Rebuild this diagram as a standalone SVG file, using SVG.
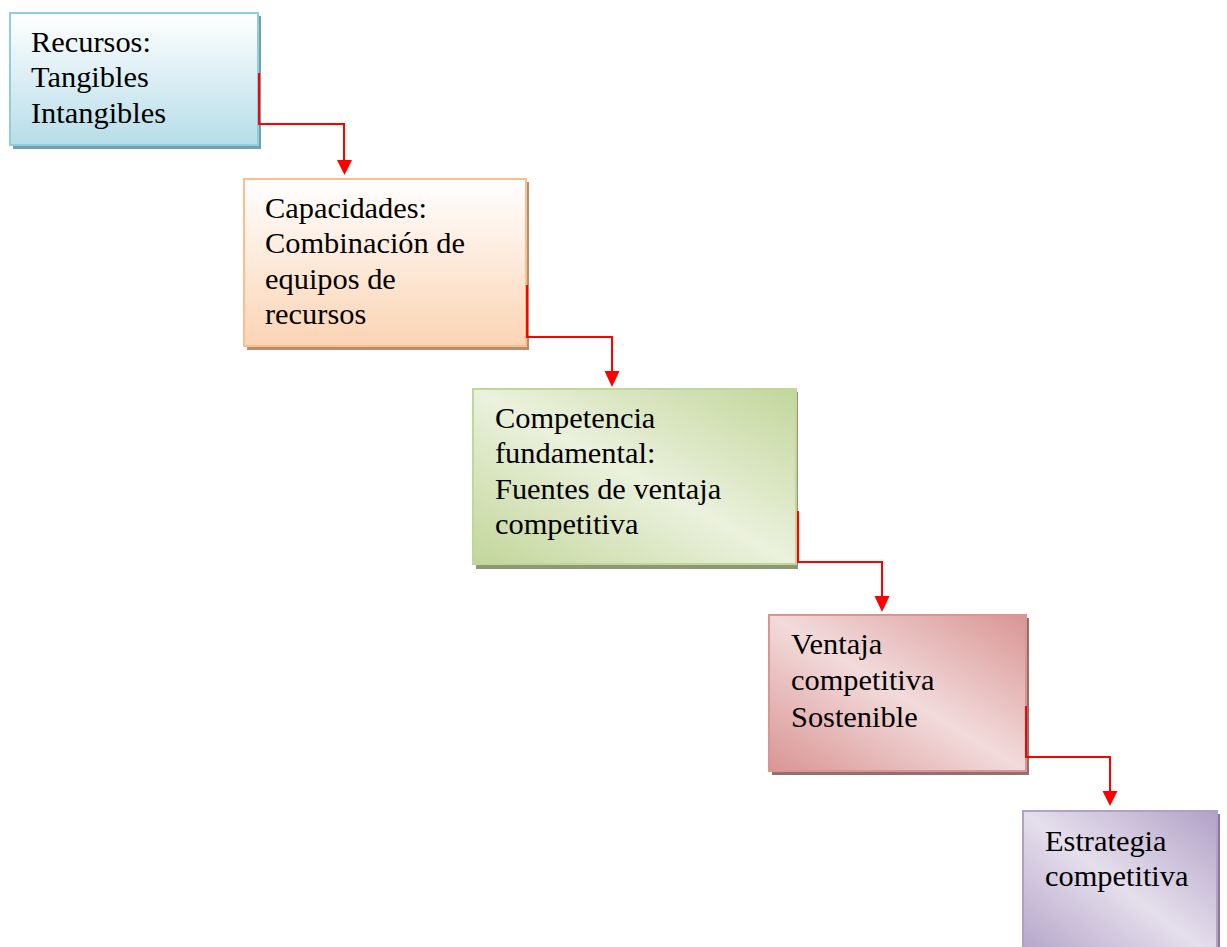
<svg xmlns="http://www.w3.org/2000/svg" width="1227" height="947" viewBox="0 0 1227 947">
<style>
text{font-family:"Liberation Serif","Times New Roman",serif;font-size:30.4px;fill:#000}
.conn{fill:none;stroke:#ff0000;stroke-width:2}
.head{fill:#ff0000}
</style>
<defs>
<linearGradient id="g1" x1="0" y1="0" x2="0" y2="1"><stop offset="0" stop-color="#ffffff"/><stop offset="1" stop-color="#b6dde8"/></linearGradient>
<linearGradient id="g2" x1="0" y1="0" x2="0" y2="1"><stop offset="0" stop-color="#ffffff"/><stop offset="1" stop-color="#fbd4b4"/></linearGradient>
<linearGradient id="g3" x1="1" y1="0" x2="0" y2="1"><stop offset="0" stop-color="#c2d69b"/><stop offset="0.5" stop-color="#ebf1dd"/><stop offset="1" stop-color="#c2d69b"/></linearGradient>
<linearGradient id="g4" x1="1" y1="0" x2="0" y2="1"><stop offset="0" stop-color="#d99594"/><stop offset="0.5" stop-color="#f2dbdb"/><stop offset="1" stop-color="#d99594"/></linearGradient>
<linearGradient id="g5" x1="1" y1="0" x2="0" y2="1"><stop offset="0" stop-color="#b2a1c7"/><stop offset="0.5" stop-color="#e5dfec"/><stop offset="1" stop-color="#b2a1c7"/></linearGradient>
</defs>
<g id="node1">
<rect x="13" y="16" width="248" height="133" fill="#4b8a9a" opacity="0.8"/>
<rect x="10" y="13" width="248" height="132" fill="url(#g1)" stroke="#92cddc" stroke-width="2"/>
<text x="31" y="52">Recursos:</text>
<text x="31" y="87">Tangibles</text>
<text x="31" y="123">Intangibles</text>
</g>
<g id="node2">
<rect x="247" y="182" width="282" height="168" fill="#a87048" opacity="0.8"/>
<rect x="244" y="179" width="282" height="167" fill="url(#g2)" stroke="#fabf8f" stroke-width="2"/>
<text x="265" y="218">Capacidades:</text>
<text x="265" y="253">Combinación de</text>
<text x="265" y="289">equipos de</text>
<text x="265" y="324">recursos</text>
</g>
<g id="node3">
<rect x="476" y="392" width="322" height="177" fill="#6f7f52" opacity="0.8"/>
<rect x="473" y="389" width="323" height="175" fill="url(#g3)" stroke="#c2d69b" stroke-width="2"/>
<text x="495" y="428">Competencia</text>
<text x="495" y="463">fundamental:</text>
<text x="495" y="499">Fuentes de ventaja</text>
<text x="495" y="534">competitiva</text>
</g>
<g id="node4">
<rect x="772" y="618" width="257" height="157" fill="#7a4a4a" opacity="0.8"/>
<rect x="769" y="615" width="257" height="156" fill="url(#g4)" stroke="#d99594" stroke-width="2"/>
<text x="791" y="654">Ventaja</text>
<text x="791" y="690">competitiva</text>
<text x="791" y="727">Sostenible</text>
</g>
<g id="node5">
<rect x="1026" y="814" width="194" height="150" fill="#6a5a7a" opacity="0.8"/>
<rect x="1023" y="811" width="194" height="150" fill="url(#g5)" stroke="#b2a1c7" stroke-width="2"/>
<text x="1045" y="851">Estrategia</text>
<text x="1045" y="886">competitiva</text>
</g>
<g id="connectors">
<path class="conn" d="M259,73 V124 H344 V161"/>
<path class="head" d="M337,160 L352,160 L344.5,175 Z"/>
<path class="conn" d="M527,285 V337 H612 V372"/>
<path class="head" d="M604.5,371 L619.5,371 L612,387 Z"/>
<path class="conn" d="M798,511 V562 H882 V597"/>
<path class="head" d="M874.5,596 L889.5,596 L882,612 Z"/>
<path class="conn" d="M1026,706 V757 H1110 V792"/>
<path class="head" d="M1102.5,791 L1117.5,791 L1110,806 Z"/>
</g>
</svg>
